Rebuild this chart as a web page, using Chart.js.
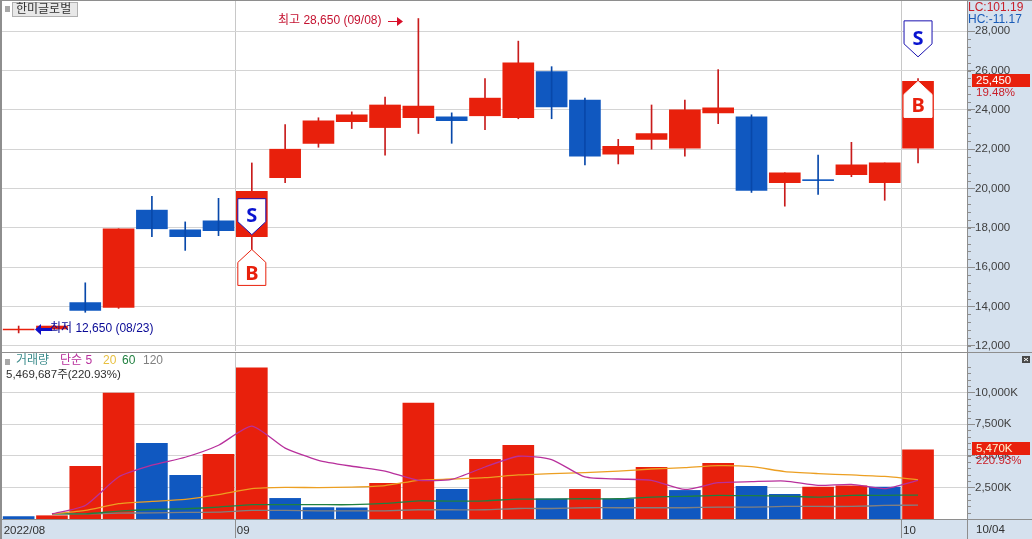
<!DOCTYPE html>
<html lang="ko">
<head>
<meta charset="utf-8">
<title>한미글로벌</title>
<script src="https://cdn.jsdelivr.net/npm/chart.js@4"></script>
<style>
    html, body { margin: 0; padding: 0; background: #fff; overflow: hidden; }
    #wrap { position: relative; width: 1032px; height: 539px; }
    #priceChart { position: absolute; left: 0; top: 0; }
    #volumeChart { position: absolute; left: 0; top: 352px; }
</style>
</head>
<body>
<div id="wrap">
    <canvas id="priceChart" width="1032" height="352"></canvas>
    <canvas id="volumeChart" width="1032" height="187"></canvas>
</div>
<script>
// Daily bars 2022/08/23 - 2022/10/04, last slot stays empty
const dates = ['08/23','08/24','08/25','08/26','08/29','08/30','08/31',
    '09/01','09/02','09/05','09/06','09/07','09/08','09/13','09/14','09/15','09/16',
    '09/19','09/20','09/21','09/22','09/23','09/26','09/27','09/28','09/29','09/30',
    '10/04',''];
const opens  = [12800,12850,14200,13950,18900,17900,18350,17550,20550,22300,23400,23100,23600,23650,23700,23600,25950,24500,21750,22500,22050,23850,23650,20300,20450,20700,20300,22050];
const closes = [12850,13000,13800,17950,17950,17550,17850,19850,22000,23450,23750,24250,24200,23450,24600,26400,24150,21650,22150,22800,24000,24100,19900,20800,20400,21200,21300,25450];
const highs  = [13000,13000,15200,17950,19600,18300,19500,21300,23250,23600,23900,24650,28650,23850,25600,27500,26200,24600,22500,24250,24500,26050,23750,20800,21700,22350,21300,25600];
const lows   = [12650,12850,13700,13900,17550,16850,17600,16900,20300,22100,23050,21700,22800,22300,23000,23550,23550,21200,21250,22000,21650,23300,19800,19100,19700,20600,19400,21300];

const volumes = [200,260,4170,9960,5990,3450,5120,11940,1630,910,890,2820,9170,2340,4720,5830,1600,2340,1600,4090,2260,4400,2580,1940,2520,2630,2520,5470];
const ma5   = [null,400,1070,3320,4250,4880,5830,7340,5600,4640,4170,3790,3060,3140,4110,4960,4700,3320,3160,3060,2340,2870,2950,3000,2660,2740,2400,3060];
const ma20  = [null,400,680,1210,1390,1550,1920,2400,2500,2480,2520,2640,3060,3160,3270,3480,3590,3670,3790,3950,4060,4220,4140,3750,3590,3480,3370,3110];
const ma60  = [null,400,410,620,750,810,940,1130,1130,1130,1130,1230,1440,1410,1440,1570,1570,1600,1600,1730,1790,1870,1840,1810,1730,1870,1870,1890];
const ma120 = [null,400,410,460,490,520,540,680,680,650,650,650,730,730,730,830,830,890,890,890,890,940,940,990,990,990,1070,1100];

const priceTicks = [12000,14000,16000,18000,20000,22000,24000,26000,28000];
const volumeTicks = [2500,5000,7500,10000];
const monthTickIndex = [0, 7, 27];
const monthTickLabels = ['2022/08', '09', '10'];
const buyIndex = [7, 27];
const buyPrice = [16900, 25450];
const sellIndex = [7, 27];
const sellPrice = [17650, 26700];

const RED = 'rgb(232, 32, 12)';
const BLUE = 'rgb(16, 88, 192)';
const WICK_RED = 'rgb(200, 28, 28)';
const WICK_BLUE = 'rgb(8, 72, 170)';
const GRID = '#d4d4d4';
const AXIS_BG = '#d5e1ee';
const EDGE = '#8e8e8e';
const FONT = '"Liberation Sans", "Noto Sans CJK KR", sans-serif';

function drawText(ctx, text, x, y, color, size) {
    ctx.font = (size || 11.5) + 'px ' + FONT;
    ctx.fillStyle = color;
    ctx.textAlign = 'left';
    ctx.textBaseline = 'middle';
    ctx.fillText(text, x, y);
}

function drawMinorTicks(chart, step, top, ctx) {
    const scale = chart.scales.y;
    ctx.strokeStyle = EDGE;
    ctx.lineWidth = 1;
    for (let v = Math.ceil(scale.min / step) * step; v <= top; v += step) {
        const y = Math.round(scale.getPixelForValue(v)) + 0.5;
        ctx.beginPath();
        ctx.moveTo(968, y);
        ctx.lineTo(971, y);
        ctx.stroke();
    }
}

function drawFlag(ctx, x, y, dir, stroke, letter, letterColor) {
    // dir 1 = tip on top (B), -1 = tip at the bottom (S)
    const shoulder = y + dir * 13;
    const end = y + dir * 36;
    ctx.beginPath();
    ctx.moveTo(x, y);
    ctx.lineTo(x + 14, shoulder);
    ctx.lineTo(x + 14, end);
    ctx.lineTo(x - 14, end);
    ctx.lineTo(x - 14, shoulder);
    ctx.closePath();
    ctx.fillStyle = '#fff';
    ctx.fill();
    ctx.lineWidth = 1;
    ctx.strokeStyle = stroke;
    ctx.stroke();
    ctx.font = 'bold 20px "Noto Sans", sans-serif';
    ctx.fillStyle = letterColor;
    ctx.textAlign = 'center';
    ctx.textBaseline = 'middle';
    ctx.fillText(letter, x, y + dir * 19 + (dir > 0 ? 6 : 1));
}

const priceBack = {
    id: 'priceBack',
    beforeDraw(chart) {
        const ctx = chart.ctx;
        ctx.save();
        ctx.fillStyle = AXIS_BG;
        ctx.fillRect(968, 0, 64, 352);
        ctx.restore();
    }
};

const priceMarks = {
    id: 'priceMarks',
    afterDraw(chart) {
        const ctx = chart.ctx;
        const x = chart.scales.x;
        const y = chart.scales.y;
        ctx.save();

        // frame
        ctx.fillStyle = EDGE;
        ctx.fillRect(0, 0, 1032, 1);
        ctx.fillRect(0, 0, 2, 352);
        ctx.fillRect(967, 0, 1, 352);
        drawMinorTicks(chart, 400, 29000, ctx);

        // buy / sell flags
        buyIndex.forEach((idx, i) => {
            const stroke = idx === 7 ? RED : '#fff';
            drawFlag(ctx, x.getPixelForValue(idx), y.getPixelForValue(buyPrice[i]), 1, stroke, 'B', RED);
        });
        sellIndex.forEach((idx, i) => {
            drawFlag(ctx, x.getPixelForValue(idx), y.getPixelForValue(sellPrice[i]), -1, '#1a12b0', 'S', '#0a14d0');
        });

        // stock name box
        ctx.fillStyle = '#a8a8a8';
        ctx.fillRect(5, 6, 5, 6);
        ctx.fillStyle = '#e8e8e8';
        ctx.fillRect(12.5, 2.5, 65, 14);
        ctx.strokeStyle = '#b0b0b0';
        ctx.strokeRect(12.5, 2.5, 65, 14);
        drawText(ctx, '한미글로벌', 16, 10, '#303030', 12);

        // high and low callouts
        drawText(ctx, '최고 28,650 (09/08)', 278, 21, '#c41230', 12);
        ctx.strokeStyle = '#d8102a';
        ctx.lineWidth = 1;
        ctx.beginPath();
        ctx.moveTo(388, 21.5);
        ctx.lineTo(402, 21.5);
        ctx.stroke();
        ctx.fillStyle = '#d8102a';
        ctx.beginPath();
        ctx.moveTo(403, 21.5);
        ctx.lineTo(397, 17);
        ctx.lineTo(397, 26);
        ctx.closePath();
        ctx.fill();

        ctx.fillStyle = '#1010c8';
        ctx.fillRect(40, 328, 12, 3);
        ctx.beginPath();
        ctx.moveTo(35, 329.5);
        ctx.lineTo(41, 324);
        ctx.lineTo(41, 335);
        ctx.closePath();
        ctx.fill();
        drawText(ctx, '최저 12,650 (08/23)', 50, 329, '#0a0a96', 12);

        // right side readouts
        ctx.fillStyle = AXIS_BG;
        ctx.fillRect(968, 1, 64, 25);
        drawText(ctx, 'LC:101.19', 968, 8, '#c8202a', 12);
        drawText(ctx, 'HC:-11.17', 968, 20, '#1a5cb8', 12);
        ctx.fillStyle = RED;
        ctx.fillRect(972, 74, 58, 13);
        drawText(ctx, '25,450', 976, 81, '#fff');
        drawText(ctx, '19.48%', 976, 93, '#c8202a');
        ctx.restore();
    }
};

const volumeBack = {
    id: 'volumeBack',
    beforeDraw(chart) {
        const ctx = chart.ctx;
        ctx.save();
        ctx.fillStyle = AXIS_BG;
        ctx.fillRect(968, 0, 64, 187);
        ctx.fillRect(0, 168, 1032, 19);
        ctx.restore();
    }
};

const volumeMarks = {
    id: 'volumeMarks',
    afterDraw(chart) {
        const ctx = chart.ctx;
        ctx.save();

        // frame
        ctx.fillStyle = EDGE;
        ctx.fillRect(0, 0, 1032, 1);
        ctx.fillRect(0, 0, 2, 187);
        ctx.fillRect(967, 0, 1, 187);
        ctx.fillRect(0, 167, 1032, 1);
        drawMinorTicks(chart, 500, 12000, ctx);

        // legend row
        ctx.fillStyle = '#a8a8a8';
        ctx.fillRect(5, 7, 5, 6);
        drawText(ctx, '거래량', 16, 9, '#3c8c8c', 12);
        drawText(ctx, '단순 5', 60, 9, '#b8309c', 12);
        drawText(ctx, '20', 103, 9, '#e8c040', 12);
        drawText(ctx, '60', 122, 9, '#208040', 12);
        drawText(ctx, '120', 143, 9, '#808080', 12);
        drawText(ctx, '5,469,687주(220.93%)', 6, 23, '#303030');

        // collapse button
        ctx.fillStyle = '#484848';
        ctx.fillRect(1022, 4, 8, 7);
        ctx.strokeStyle = '#fff';
        ctx.lineWidth = 1;
        ctx.beginPath();
        ctx.moveTo(1024, 6);
        ctx.lineTo(1028, 9);
        ctx.moveTo(1028, 6);
        ctx.lineTo(1024, 9);
        ctx.stroke();

        // current volume readout
        ctx.fillStyle = RED;
        ctx.fillRect(972, 90, 58, 13);
        drawText(ctx, '5,470K', 976, 97, '#fff6d0');
        drawText(ctx, '220.93%', 976, 109, '#c8202a');
        drawText(ctx, '10/04', 976, 178, '#303030');
        ctx.restore();
    }
};

// fixed gutter for the value axis, no label overhang into the plot
function fitValueAxis(scale) {
    scale.width = 64;
    scale.paddingTop = 0;
    scale.paddingBottom = 0;
}

const priceCtx = document.getElementById('priceChart').getContext('2d');
new Chart(priceCtx, {
    type: 'bar',
    data: {
        labels: dates,
        datasets: [
            {
                // falling wicks stay visible across the body
                label: 'wick down',
                data: lows.map((low, i) => closes[i] < opens[i] ? [low, highs[i]] : null),
                backgroundColor: WICK_BLUE,
                barThickness: 1
            },
            {
                label: 'body',
                data: opens.map((open, i) => [open, closes[i]]),
                backgroundColor: closes.map((c, i) => c >= opens[i] ? RED : BLUE),
                barThickness: 31
            },
            {
                label: 'wick up',
                data: lows.map((low, i) => closes[i] >= opens[i] ? [low, highs[i]] : null),
                backgroundColor: WICK_RED,
                barThickness: 1
            }
        ]
    },
    options: {
        responsive: false,
        animation: false,
        grouped: false,
        layout: { padding: { left: 2, top: 1, bottom: 1, right: 0 } },
        plugins: { legend: { display: false }, tooltip: { enabled: false } },
        scales: {
            x: {
                border: { display: false },
                grid: {
                    drawTicks: false,
                    offset: true,
                    color: ctx => monthTickIndex.slice(1).includes(ctx.index) ? '#c8c8c8' : 'transparent'
                },
                ticks: { display: false },
                afterFit: scale => { scale.height = 0; }
            },
            y: {
                position: 'right',
                min: 11730,
                max: 29542,
                border: { display: false },
                grid: { color: GRID, tickLength: 7, tickColor: EDGE },
                ticks: {
                    padding: 0,
                    color: '#404040',
                    font: { family: FONT, size: 11.5 },
                    callback: value => value.toLocaleString('en-US')
                },
                afterBuildTicks: scale => { scale.ticks = priceTicks.map(value => ({ value })); },
                afterFit: fitValueAxis
            }
        }
    },
    plugins: [priceBack, priceMarks]
});

const volumeCtx = document.getElementById('volumeChart').getContext('2d');
new Chart(volumeCtx, {
    type: 'bar',
    data: {
        labels: dates,
        datasets: [
            { type: 'line', label: '5', data: ma5, borderColor: '#b8309c', borderWidth: 1.3, pointRadius: 0, tension: 0.2, order: 1 },
            { type: 'line', label: '20', data: ma20, borderColor: '#ec9f22', borderWidth: 1.3, pointRadius: 0, tension: 0.2, order: 2 },
            { type: 'line', label: '60', data: ma60, borderColor: '#208040', borderWidth: 1.3, pointRadius: 0, tension: 0.2, order: 3 },
            { type: 'line', label: '120', data: ma120, borderColor: '#808080', borderWidth: 1.3, pointRadius: 0, tension: 0.2, order: 4 },
            {
                label: '거래량',
                data: volumes,
                backgroundColor: volumes.map((v, i) => v > (volumes[i - 1] ?? v) ? RED : BLUE),
                barThickness: 31,
                order: 5
            }
        ]
    },
    options: {
        responsive: false,
        animation: false,
        layout: { padding: { left: 2, top: 1, bottom: 0, right: 0 } },
        plugins: { legend: { display: false }, tooltip: { enabled: false } },
        scales: {
            x: {
                border: { display: false },
                grid: {
                    offset: true,
                    tickLength: 19,
                    color: ctx => monthTickIndex.slice(1).includes(ctx.index) ? '#c8c8c8' : 'transparent',
                    tickColor: ctx => monthTickIndex.slice(1).includes(ctx.index) ? '#8e8e8e' : 'transparent'
                },
                ticks: {
                    autoSkip: false,
                    maxRotation: 0,
                    align: 'start',
                    labelOffset: -15,
                    padding: -14,
                    color: '#303030',
                    font: { family: FONT, size: 11.5 },
                    callback: (value, index) => {
                        const at = monthTickIndex.indexOf(index);
                        return at >= 0 ? monthTickLabels[at] : '';
                    }
                },
                afterFit: scale => { scale.height = 20; }
            },
            y: {
                position: 'right',
                min: 0,
                max: 13119,
                border: { display: false },
                grid: { color: GRID, tickLength: 7, tickColor: EDGE },
                ticks: {
                    padding: 0,
                    color: '#404040',
                    font: { family: FONT, size: 11.5 },
                    callback: value => value.toLocaleString('en-US') + 'K'
                },
                afterBuildTicks: scale => { scale.ticks = volumeTicks.map(value => ({ value })); },
                afterFit: fitValueAxis
            }
        }
    },
    plugins: [volumeBack, volumeMarks]
});
</script>
</body>
</html>
